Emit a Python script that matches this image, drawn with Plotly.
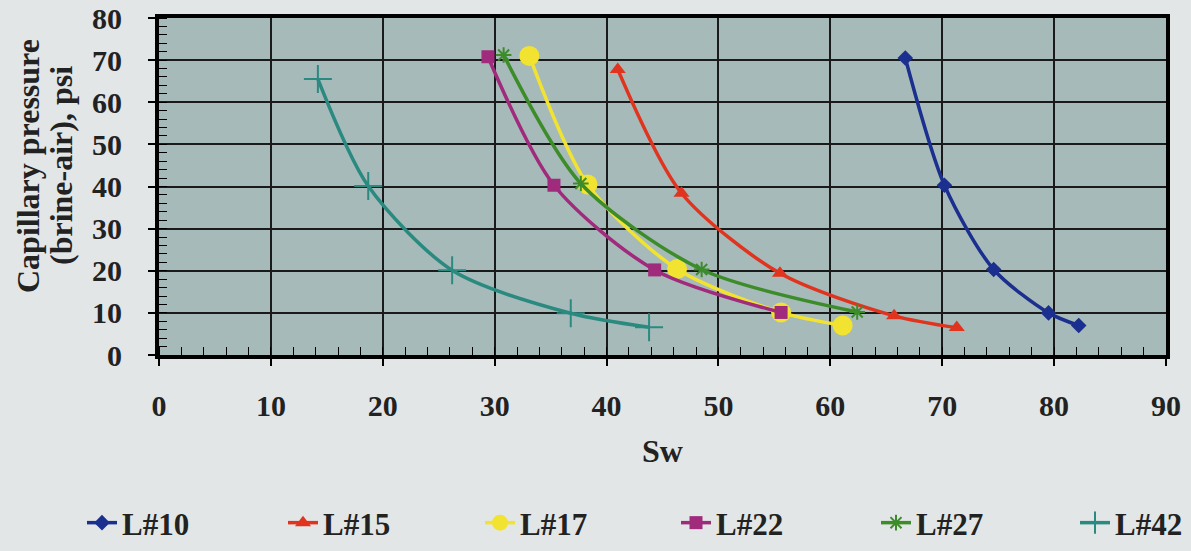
import plotly.graph_objects as go

# ---- data ----
series_names = ["L#10", "L#15", "L#17", "L#22", "L#27", "L#42"]

sw_L10 = [66.7, 70.2, 74.6, 79.5, 82.2]
pc_L10 = [70.5, 40.3, 20.3, 10.0, 7.0]

sw_L15 = [41.0, 46.7, 55.5, 65.7, 71.3]
pc_L15 = [67.8, 38.4, 19.4, 9.3, 6.5]

sw_L17 = [33.1, 38.3, 46.3, 55.6, 61.1]
pc_L17 = [71.0, 40.5, 20.4, 10.1, 7.0]

sw_L22 = [29.4, 35.3, 44.3, 55.6]
pc_L22 = [70.8, 40.3, 20.2, 10.1]

sw_L27 = [30.8, 37.7, 48.5, 62.4]
pc_L27 = [71.2, 40.7, 20.3, 10.2]

sw_L42 = [14.2, 18.7, 26.2, 36.8, 43.8]
pc_L42 = [65.5, 40.1, 20.1, 9.9, 6.6]

x_ticks = [0, 10, 20, 30, 40, 50, 60, 70, 80, 90]
y_ticks = [0, 10, 20, 30, 40, 50, 60, 70, 80]

y_title_lines = ["Capillary pressure", "(brine-air), psi"]
x_title = "Sw"

# ---- styles ----
FONT = "Liberation Serif"
TXT = "#222222"
styles = {
    "L#10": dict(color="#1b2f8e", symbol="diamond", size=12, lw=0),
    "L#15": dict(color="#e0341f", symbol="triangle-up", size=14, lw=0),
    "L#17": dict(color="#f2e330", symbol="circle", size=20, lw=0),
    "L#22": dict(color="#a02a7c", symbol="square", size=13, lw=0),
    "L#27": dict(color="#3d8c2a", symbol="asterisk-open", size=13, lw=2),
    "L#42": dict(color="#2a8a80", symbol="cross-thin-open", size=20, lw=2),
}
data = {
    "L#10": (sw_L10, pc_L10),
    "L#15": (sw_L15, pc_L15),
    "L#17": (sw_L17, pc_L17),
    "L#22": (sw_L22, pc_L22),
    "L#27": (sw_L27, pc_L27),
    "L#42": (sw_L42, pc_L42),
}
# legend text left edges (px) in the reference
legend_text_left = [122, 323, 520, 716, 916, 1115]

W, H = 1191, 551
fig = go.Figure()
legend_layouts = {}
for i, name in enumerate(series_names):
    xs, ys = data[name]
    st = styles[name]
    lg = "legend" if i == 0 else f"legend{i + 1}"
    fig.add_trace(go.Scatter(
        x=xs, y=ys, name=name, mode="lines+markers", legend=lg,
        line=dict(color=st["color"], width=3.5, shape="spline", smoothing=0.8),
        marker=dict(symbol=st["symbol"], size=st["size"], color=st["color"],
                    line=dict(color=st["color"], width=st["lw"])),
    ))
    legend_layouts[lg] = dict(
        orientation="h", xref="container", yref="container",
        x=(legend_text_left[i] - 40) / W, xanchor="left",
        y=1 - 523 / H, yanchor="middle",
        font=dict(family=FONT, size=31, color=TXT, weight="bold"),
        bgcolor="rgba(0,0,0,0)", itemwidth=30,
    )

axis_common = dict(
    showline=True, linecolor="black", linewidth=4, mirror=True,
    showgrid=True, gridcolor="#1a1a1a", gridwidth=1.5,
    ticks="outside", ticklen=7, tickwidth=1.5, tickcolor="black",
    tickfont=dict(family=FONT, size=30, color=TXT, weight="bold"),
    minor=dict(ticks="inside", dtick=2, ticklen=8, tickwidth=1.3,
               tickcolor="black", showgrid=False),
    zeroline=False,
)

fig.update_xaxes(
    range=[0, 90], tickvals=x_ticks, ticktext=[str(v) for v in x_ticks],
    ticklabelstandoff=14,
    title=dict(text=x_title, font=dict(family=FONT, size=32, color=TXT, weight="bold"),
               standoff=20),
    **axis_common,
)
fig.update_yaxes(
    range=[0, 80], tickvals=y_ticks, ticktext=[str(v) for v in y_ticks],
    ticklabelstandoff=20,
    **axis_common,
)

# y-axis title as two rotated lines
plot_l, plot_r, plot_t, plot_b = 159, 1166, 18, 355
for txt, xc in zip(y_title_lines, [28, 61]):
    fig.add_annotation(
        text=txt, textangle=-90, showarrow=False,
        xref="paper", yref="paper",
        x=(xc - plot_l) / (plot_r - plot_l), y=(plot_b - 166) / (plot_b - plot_t),
        xanchor="center", yanchor="middle",
        font=dict(family=FONT, size=32, color=TXT, weight="bold"),
    )

fig.update_layout(
    width=W, height=H,
    margin=dict(l=plot_l, r=W - plot_r, t=plot_t, b=H - plot_b, autoexpand=False),
    paper_bgcolor="#e3e6e6",
    plot_bgcolor="#a7baba",
    showlegend=True,
    **legend_layouts,
)

fig.write_html("out.html")
